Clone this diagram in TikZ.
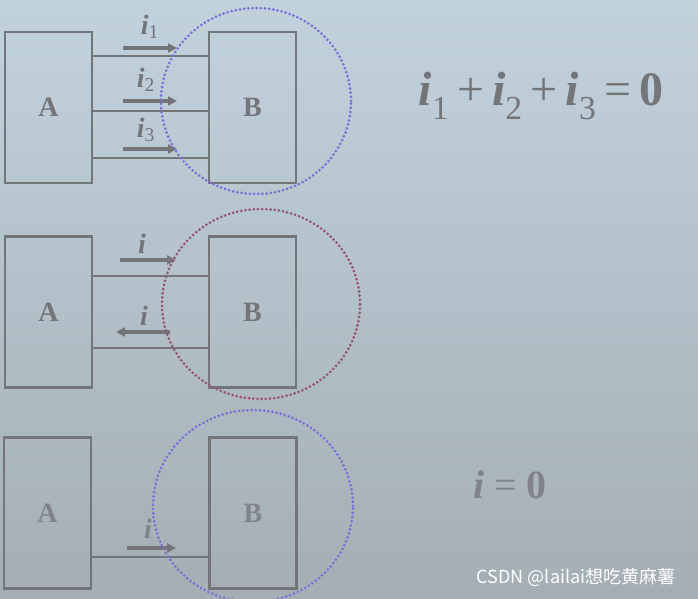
\documentclass[tikz,border=0pt]{standalone}
\usepackage{fontspec}
\setmainfont{Liberation Serif}
\newfontfamily\cjk{Noto Sans CJK SC}
\usetikzlibrary{arrows.meta}

\definecolor{slidetop}{RGB}{194,210,221}
\definecolor{slidelow}{RGB}{164,174,180}
\definecolor{ink}{RGB}{116,117,121}
\definecolor{pale}{RGB}{128,132,137}
\definecolor{loopblue}{RGB}{122,112,215}
\definecolor{loopred}{RGB}{150,84,112}

\newcommand{\cur}[1]{\textbf{\textit{i}}\textsubscript{#1}}

\begin{document}
\begin{tikzpicture}
[x=1pt,y=-1pt,%
  every node/.style={text=ink},%
  block/.style={draw=ink,line width=2.4pt,minimum width=87pt,minimum height=151pt,
    inner sep=0pt,font=\bfseries\fontsize{28}{28}\selectfont},%
  wire/.style={draw=ink,line width=2.4pt},%
  flow/.style={draw=ink,line width=3.4pt,-{Triangle[length=9pt,width=9pt]}},%
  lbl/.style={font=\fontsize{28}{28}\selectfont},%
  loop/.style={line width=3pt,dash pattern=on 0pt off 4.2pt,line cap=round}]
\useasboundingbox (0,0) rectangle (698,598);
\shade[top color=slidetop,bottom color=slidelow] (0,0) rectangle (698,598);
% three currents into B
\node[block] (A1) at (48.5,107.5) {A};
\node[block] (B1) at (252.5,107.5) {B};
\draw[wire] ([yshift=51.5pt]A1.east) -- ([yshift=51.5pt]B1.west);
\draw[wire] ([yshift=-3.5pt]A1.east) -- ([yshift=-3.5pt]B1.west);
\draw[wire] ([yshift=-50.5pt]A1.east) -- ([yshift=-50.5pt]B1.west);
\draw[flow] (123,48) -- (177,48);
\draw[flow] (123,101) -- (177,101);
\draw[flow] (123,149) -- (177,149);
\node[lbl] at (150,27) {\cur{1}};
\node[lbl] at (146,80) {\cur{2}};
\node[lbl] at (146,130) {\cur{3}};
\draw[loop,loopblue] (256,101) ellipse (95pt and 93pt);
\node[font=\fontsize{48}{48}\selectfont] (sum) at (541,96)
  {\cur{1}\,+\,\cur{2}\,+\,\cur{3}\,=\,\textbf{0}};
% one current in, one out
\node[block] (A2) at (48.5,312) {A};
\node[block] (B2) at (252.5,312) {B};
\draw[wire] ([yshift=36pt]A2.east) -- ([yshift=36pt]B2.west);
\draw[wire] ([yshift=-36pt]A2.east) -- ([yshift=-36pt]B2.west);
\draw[flow] (120,260) -- (176,260);
\draw[flow] (170,332) -- (116,332);
\node[lbl] at (142,244) {\textbf{\textit{i}}};
\node[lbl] at (144,316) {\textbf{\textit{i}}};
\draw[loop,loopred] (261,304) ellipse (99pt and 95pt);
% single wire
\node[block,text=pale] (A3) at (47.5,513) {A};
\node[block,text=pale] (B3) at (253,513) {B};
\draw[wire] ([yshift=-44pt]A3.east) -- ([yshift=-44pt]B3.west);
\draw[flow] (127,548) -- (176,548);
\node[lbl,text=pale] at (148,529) {\textbf{\textit{i}}};
\draw[loop,loopblue] (253,506) ellipse (100pt and 96pt);
\node[text=pale,font=\fontsize{40}{40}\selectfont] (zero) at (510,485)
  {\textbf{\textit{i}} = \textbf{0}};
\node[text=white,font=\cjk\fontsize{18}{18}\selectfont] (mark) at (576,577)
  {CSDN @lailai想吃黄麻薯};
\end{tikzpicture}
\end{document}
